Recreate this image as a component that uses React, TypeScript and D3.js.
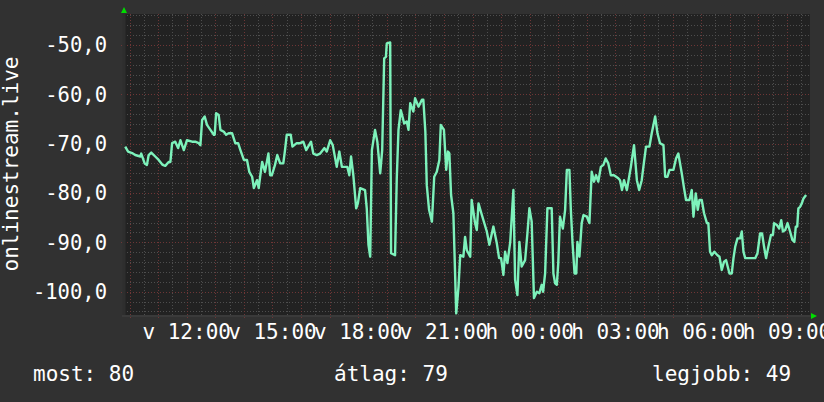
import React from "react";
import * as d3 from "d3";

// time in hours since Sunday 00:00 (24+ = Monday)
const times = [
  9.85, 9.95, 10.09, 10.2, 10.38, 10.41, 10.53, 10.61, 10.67, 10.76,
  10.9, 11.02, 11.16, 11.25, 11.37, 11.43, 11.49, 11.6, 11.7, 11.78,
  11.9, 12.01, 12.19, 12.3, 12.42, 12.48, 12.54, 12.63, 12.71, 12.83,
  12.95, 12.98, 13.03, 13.12, 13.18, 13.3, 13.38, 13.47, 13.59, 13.7,
  13.8, 13.88, 14.0, 14.11, 14.19, 14.29, 14.35, 14.46, 14.52, 14.57,
  14.64, 14.74, 14.86, 14.92, 14.98, 15.09, 15.17, 15.27, 15.38, 15.44,
  15.5, 15.64, 15.7, 15.85, 15.97, 16.08, 16.18, 16.35, 16.43, 16.55,
  16.67, 16.82, 16.9, 17.02, 17.11, 17.25, 17.34, 17.43, 17.62, 17.69,
  17.75, 17.83, 17.93, 17.99, 18.07, 18.24, 18.3, 18.36, 18.42, 18.48,
  18.59, 18.67, 18.77, 18.84, 18.91, 18.97, 19.0, 19.12, 19.15, 19.29,
  19.35, 19.41, 19.49, 19.61, 19.7, 19.76, 19.82, 19.93, 19.99, 20.11,
  20.23, 20.28, 20.35, 20.4, 20.48, 20.58, 20.66, 20.75, 20.84, 20.89,
  21.0, 21.08, 21.14, 21.19, 21.25, 21.33, 21.43, 21.51, 21.57, 21.68,
  21.74, 21.8, 21.92, 21.97, 22.09, 22.15, 22.21, 22.33, 22.5, 22.59,
  22.73, 22.85, 22.93, 23.0, 23.08, 23.14, 23.22, 23.32, 23.43, 23.49,
  23.57, 23.64, 23.72, 23.84, 23.92, 23.99, 24.07, 24.15, 24.25, 24.34,
  24.42, 24.47, 24.54, 24.62, 24.77, 24.83, 24.89, 24.95, 25.0, 25.06,
  25.16, 25.24, 25.3, 25.39, 25.44, 25.5, 25.57, 25.63, 25.67, 25.74,
  25.82, 25.88, 26.0, 26.09, 26.17, 26.25, 26.32, 26.4, 26.49, 26.58,
  26.66, 26.75, 26.84, 26.95, 27.1, 27.16, 27.23, 27.3, 27.4, 27.54,
  27.65, 27.75, 27.83, 27.92, 28.0, 28.07, 28.19, 28.27, 28.39, 28.47,
  28.56, 28.68, 28.74, 28.82, 28.89, 29.03, 29.12, 29.2, 29.32, 29.4,
  29.47, 29.59, 29.67, 29.73, 29.81, 29.88, 29.94, 30.02, 30.1, 30.2,
  30.25, 30.31, 30.37, 30.46, 30.57, 30.64, 30.72, 30.8, 30.87, 30.99,
  31.07, 31.13, 31.19, 31.27, 31.36, 31.42, 31.48, 31.54, 31.89, 31.97,
  32.06, 32.13, 32.2, 32.27, 32.35, 32.44, 32.51, 32.55, 32.65, 32.73,
  32.8, 32.86, 32.94, 33.02, 33.11, 33.19, 33.26, 33.31, 33.36, 33.4,
  33.46, 33.52, 33.58, 33.67,
];

const values = [
  -70.6, -71.6, -71.9, -72.3, -72.6, -72.0, -74.0, -74.3, -72.3, -71.8,
  -72.6, -73.3, -74.3, -74.5, -73.7, -73.7, -69.9, -69.6, -70.9, -69.3,
  -71.3, -69.3, -69.6, -69.6, -69.9, -70.3, -65.2, -64.5, -66.2, -67.2,
  -68.2, -68.2, -63.8, -64.2, -67.2, -67.6, -68.2, -67.9, -67.9, -69.9,
  -69.9, -71.3, -73.3, -73.3, -75.7, -76.7, -79.0, -77.4, -79.0, -76.7,
  -73.7, -75.7, -72.0, -76.4, -76.4, -74.3, -72.3, -74.0, -74.0, -71.3,
  -68.2, -68.2, -70.6, -69.9, -69.9, -69.6, -71.3, -69.6, -72.0, -72.3,
  -72.0, -70.9, -71.6, -69.3, -70.3, -74.7, -71.6, -74.7, -74.7, -76.4,
  -72.6, -76.4, -83.1, -82.1, -79.0, -79.4, -83.1, -90.5, -92.9, -71.3,
  -67.2, -69.6, -76.0, -71.3, -52.7, -52.4, -49.7, -49.5, -92.2, -92.6,
  -77.0, -67.2, -63.2, -65.9, -65.5, -67.2, -61.8, -63.5, -60.8, -62.5,
  -61.1, -61.1, -67.6, -78.4, -83.4, -85.8, -76.7, -75.7, -73.3, -66.2,
  -67.2, -75.3, -71.6, -72.0, -80.4, -84.1, -104.4, -99.0, -92.6, -92.9,
  -88.9, -91.6, -92.9, -81.4, -86.1, -87.5, -82.1, -84.5, -87.8, -90.5,
  -86.8, -90.2, -93.2, -93.2, -96.6, -91.9, -94.2, -89.9, -79.4, -97.6,
  -100.7, -89.9, -94.9, -93.6, -88.2, -83.1, -85.8, -101.3, -100.0, -100.3,
  -98.6, -100.0, -96.3, -83.1, -83.1, -96.3, -98.3, -98.6, -94.2, -84.8,
  -87.2, -83.4, -75.3, -75.3, -83.4, -90.2, -96.3, -96.3, -89.9, -92.9,
  -86.1, -84.5, -84.8, -86.1, -75.7, -77.7, -76.4, -77.7, -74.7, -74.3,
  -73.0, -74.0, -76.4, -76.4, -77.0, -77.4, -79.4, -77.4, -79.4, -74.7,
  -70.3, -77.4, -79.4, -77.4, -73.7, -70.6, -70.6, -67.9, -64.5, -67.9,
  -69.9, -70.3, -76.7, -76.7, -75.3, -75.3, -73.0, -72.0, -76.0, -79.0,
  -81.4, -81.4, -79.4, -84.8, -80.1, -83.4, -81.4, -81.4, -84.1, -86.1,
  -86.1, -91.9, -92.6, -91.9, -92.6, -92.9, -95.6, -93.9, -93.6, -96.3,
  -96.3, -93.2, -90.9, -89.2, -89.2, -87.8, -91.9, -93.2, -93.2, -92.2,
  -88.2, -88.2, -90.9, -93.2, -90.9, -88.5, -88.5, -86.1, -86.5, -87.2,
  -85.5, -87.8, -87.5, -86.1, -87.8, -89.5, -89.9, -86.8, -86.8, -83.1,
  -82.8, -82.1, -81.1, -80.4,
];

const xTickHours = [12, 15, 18, 21, 24, 27, 30, 33];
const xTickLabels = ["v 12:00", "v 15:00", "v 18:00", "v 21:00", "h 00:00", "h 03:00", "h 06:00", "h 09:00"];
const yTicks = [-100, -90, -80, -70, -60, -50];
const yTitle = "onlinestream.live";
const legendItems = ["most: 80", "átlag: 79", "legjobb: 49"];

const W = 824;
const H = 402;
const L = 124;
const R = 810;
const T = 14;
const B = 315;
const FONT = "'DejaVu Sans Mono', monospace";

export default function App() {
  const x = d3.scaleLinear().domain([9.807, 33.807]).range([L, R]);
  const y = d3.scaleLinear().domain([-104.72, -43.72]).range([B, T]);

  const minorY = d3.range(-104, -43, 2).filter((v) => v % 10 !== 0);
  const majorY = d3.range(-100, -43, 10);
  const minorX = d3.range(10, 33.81, 0.5).filter((h) => h % 1 !== 0);
  const majorX = d3.range(10, 33.81, 1);

  const pts = times.map((t, i) => [t, values[i]] as [number, number]);
  const line = d3
    .line<[number, number]>()
    .x((d) => x(d[0]))
    .y((d) => y(d[1]));

  const minorColor = "#4e4e4e";
  const majorColor = "#6e3636";
  const legendX = [33, 334, 652];

  return (
    <svg
      width={W}
      height={H}
      style={{ position: "absolute", left: 0, top: 0, display: "block" }}
    >
      <rect x={0} y={0} width={W} height={H} fill="#313131" />
      <rect x={L} y={T} width={R - L} height={B - T} fill="#222222" />
      <defs>
        <clipPath id="plotclip">
          <rect x={L} y={T - 2} width={R - L} height={B - T + 4} />
        </clipPath>
      </defs>
      {/* minor grid */}
      {minorY.map((v) => (
        <line key={"my" + v} x1={L} x2={R} y1={Math.round(y(v)) + 0.5} y2={Math.round(y(v)) + 0.5}
          stroke={minorColor} strokeDasharray="1,2" />
      ))}
      {minorX.map((h) => (
        <line key={"mx" + h} x1={Math.round(x(h)) + 0.5} x2={Math.round(x(h)) + 0.5} y1={T} y2={B + 2}
          stroke={minorColor} strokeDasharray="1,2" />
      ))}
      {/* major grid */}
      {majorY.map((v) => (
        <line key={"My" + v} x1={L - 3} x2={R} y1={Math.round(y(v)) + 0.5} y2={Math.round(y(v)) + 0.5}
          stroke={majorColor} strokeDasharray="1,2" />
      ))}
      {majorX.map((h) => (
        <line key={"Mx" + h} x1={Math.round(x(h)) + 0.5} x2={Math.round(x(h)) + 0.5} y1={T} y2={B + 4}
          stroke={majorColor} strokeDasharray="1,2" />
      ))}
      {/* axes */}
      <line x1={L} x2={L} y1={T - 2} y2={B + 2} stroke="#2e2e2e" strokeWidth={3} />
      <line x1={L - 2} x2={R + 2} y1={B + 1} y2={B + 1} stroke="#3a3a3a" strokeWidth={2} />
      <path d={`M${L - 3},${T - 1} L${L + 3},${T - 1} L${L},${T - 7} Z`} fill="#00dd00" />
      <path d={`M${R + 1},${B - 2} L${R + 1},${B + 4} L${R + 7},${B + 1} Z`} fill="#00dd00" />
      {/* data line */}
      <path d={line(pts) || ""} fill="none" stroke="#7df2bb" strokeWidth={2.4}
        strokeLinejoin="round" clipPath="url(#plotclip)" />
      {/* y tick labels */}
      {yTicks.map((v) => (
        <text key={"yl" + v} x={107} y={y(v)} dy="0.36em" textAnchor="end" fill="#ffffff"
          fontFamily={FONT} fontSize={20.5}>
          {v.toFixed(1).replace(".", ",")}
        </text>
      ))}
      {/* x tick labels */}
      {xTickHours.map((h, i) => (
        <text key={"xl" + h} x={x(h)} y={339} textAnchor="middle" fill="#ffffff"
          fontFamily={FONT} fontSize={21}>
          {xTickLabels[i]}
        </text>
      ))}
      {/* y title */}
      <text transform={`translate(18,${164}) rotate(-90)`} textAnchor="middle" fill="#ffffff"
        fontFamily={FONT} fontSize={21}>
        {yTitle}
      </text>
      {/* legend */}
      {legendItems.map((s, i) => (
        <text key={"lg" + i} x={legendX[i]} y={381} fill="#ffffff" fontFamily={FONT} fontSize={21}>
          {s}
        </text>
      ))}
    </svg>
  );
}
